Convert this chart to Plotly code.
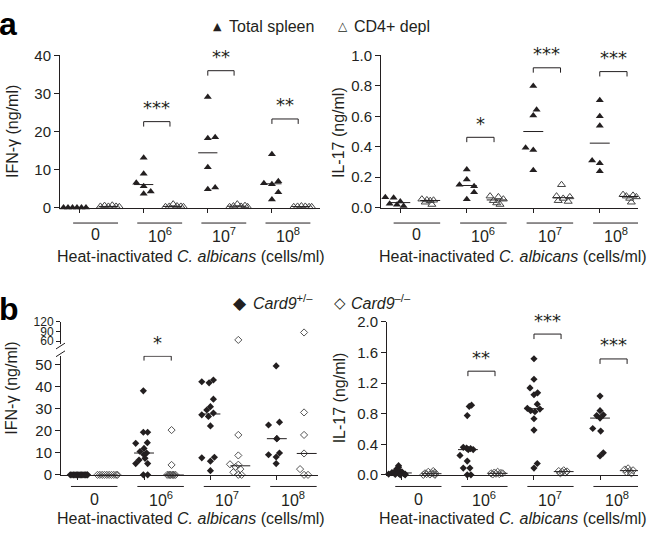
import numpy as np
import plotly.graph_objects as go

W, H = 650, 540
FONT = "Liberation Sans, Arial, Helvetica, sans-serif"
SYM_FONT = "DejaVu Sans, sans-serif"
INK = "#231f20"

group_labels = ["0", "10<sup>6</sup>", "10<sup>7</sup>", "10<sup>8</sup>"]
x_title = "Heat-inactivated <i>C. albicans</i> (cells/ml)"

# ---------------- panel a : Total spleen (filled) vs CD4+ depl (open) ----------------
a_ifn_total = [
    [0, 0, 0, 0, 0, 0],
    [13.1, 8.9, 6.5, 5.6, 4.2, 3.6],
    [29.1, 18.5, 18.2, 10.6, 5.3, 4.8],
    [14.0, 6.9, 6.4, 6.1, 4.0, 2.1],
]
a_ifn_total_dx = [
    [-0.5, -0.36, -0.22, -0.08, 0.06, 0.2],
    [0, 0, -0.23, 0, 0.22, 0],
    [0, 0.23, 0, 0, 0.23, 0],
    [0, 0.2, -0.25, 0, 0.2, 0],
]
a_ifn_cd4 = [
    [0.3, 0.5, 0.3, 0.6, 0.3, 0.2],
    [0.2, 0.3, 0.9, 0.4, 0.3, 0.2],
    [0.2, 0.4, 0.9, 0.3, 0.5, 0.2],
    [0.2, 0.3, 0.4, 0.3, 0.2, 0.2],
]
a_ifn_cd4_dx = [
    [-0.25, -0.12, 0.0, 0.12, 0.24, 0.34],
    [-0.22, -0.1, 0.02, 0.14, 0.26, 0.34],
    [-0.22, -0.1, 0.02, 0.14, 0.26, 0.34],
    [-0.22, -0.1, 0.02, 0.14, 0.26, 0.34],
]
a_il17_total = [
    [0.068, 0.064, 0.04, 0.025, 0.018, 0.01],
    [0.25, 0.185, 0.15, 0.14, 0.10, 0.055],
    [0.80, 0.643, 0.606, 0.394, 0.379, 0.245],
    [0.706, 0.60, 0.538, 0.309, 0.291, 0.238],
]
a_il17_total_dx = [
    [-0.45, -0.2, 0.0, -0.32, -0.1, 0.1],
    [0, 0, -0.22, 0.22, 0.22, 0],
    [0, 0.1, 0, -0.23, 0, 0],
    [0, 0, 0, -0.23, 0, 0],
]
a_il17_cd4 = [
    [0.055, 0.05, 0.048, 0.045, 0.035, 0.02],
    [0.075, 0.07, 0.055, 0.045, 0.03, 0.02],
    [0.15, 0.075, 0.07, 0.06, 0.045, 0.04],
    [0.085, 0.08, 0.075, 0.07, 0.06, 0.035],
]
a_il17_cd4_dx = [
    [-0.25, -0.1, 0.1, 0.0, -0.15, 0.05],
    [-0.2, 0.05, 0.2, -0.1, 0.0, 0.1],
    [-0.05, -0.2, 0.2, 0.0, -0.15, 0.15],
    [-0.2, 0.1, -0.1, 0.2, 0.0, 0.05],
]

# ---------------- panel b : Card9+/- (filled) vs Card9-/- (open) ----------------
b_ifn_het = [
    [0, 0, 0, 0, 0, 0, 0, 0, 0, 0, 0, 0, 0, 0],
    [38.1, 19.3, 19.3, 14.6, 14.3, 12.0, 10.6, 9.9, 9.1, 7.5, 6.7, 5.1, 5.1, 0, 0],
    [43.0, 42.2, 41.7, 34.3, 30.9, 29.4, 28.0, 27.2, 26.5, 22.2, 8.0, 7.7, 6.2, 1.9],
    [49.4, 23.9, 22.6, 16.4, 16.4, 9.9, 9.1, 8.1, 5.1],
]
b_ifn_het_dx = [
    [-0.22, -0.17, -0.12, -0.08, -0.04, 0, 0.04, 0.08, 0.12, 0.16, 0.2, 0.24, 0.28, 0.3],
    [-0.02, -0.02, 0.11, 0.1, -0.25, 0, -0.12, 0.08, 0, 0.03, -0.15, -0.25, 0.11, -0.02, 0.11],
    [0.09, -0.26, -0.04, 0.09, 0, -0.11, 0.09, -0.26, -0.06, 0, 0.12, -0.26, 0, 0],
    [-0.02, 0.08, -0.25, 0, 0, 0.08, -0.25, -0.02, -0.02],
]
b_ifn_ko = [
    [0, 0, 0, 0, 0, 0, 0, 0, 0, 0],
    [20.3, 4.5, 0, 0, 0, 0, 0, 0, 0, 0],
    [64, 18.1, 8.8, 4.8, 4.6, 3.6, 2.6, 1.2, 0, 0],
    [87, 28.3, 18.1, 9.7, 2.6, 0, 0],
]
b_ifn_ko_dx = [
    [-0.3, -0.23, -0.16, -0.09, -0.02, 0.05, 0.12, 0.19, 0.26, 0.3],
    [-0.07, -0.07, -0.2, -0.15, -0.1, -0.05, 0, 0.05, -0.12, -0.02],
    [-0.06, -0.06, -0.06, -0.31, -0.06, -0.14, 0, -0.21, -0.06, 0.04],
    [-0.08, -0.08, -0.08, -0.08, -0.2, -0.08, 0.04],
]
b_il17_het = [
    [0.12, 0.1, 0.08, 0.06, 0.05, 0.04, 0.03, 0.02, 0.015, 0.01, 0.01, 0.005, 0, 0],
    [0.911, 0.894, 0.775, 0.36, 0.35, 0.343, 0.33, 0.33, 0.254, 0.18, 0.089, 0.089, 0, 0],
    [1.517, 1.25, 1.136, 1.072, 1.047, 0.924, 0.869, 0.86, 0.839, 0.826, 0.733, 0.585, 0.148, 0.089],
    [1.03, 0.839, 0.784, 0.775, 0.742, 0.606, 0.572, 0.288, 0.246],
]
b_il17_het_dx = [
    [-0.1, -0.1, -0.15, -0.1, -0.2, 0, -0.3, -0.1, 0.05, -0.4, 0.1, -0.2, -0.05, 0.1],
    [0.11, 0.04, -0.02, -0.14, -0.04, 0.08, 0.16, 0.01, -0.24, -0.02, -0.14, 0.06, -0.02, 0.09],
    [0, 0, -0.12, 0.11, 0, 0.1, -0.2, 0.18, -0.1, 0.03, 0, 0, 0.1, 0],
    [0, 0, 0.1, -0.1, 0, -0.22, 0.02, 0.1, 0],
]
b_il17_ko = [
    [0.05, 0.04, 0.03, 0.02, 0.02, 0.01, 0.01, 0.005, 0, 0],
    [0.04, 0.03, 0.025, 0.02, 0.02, 0.015, 0.01, 0.005],
    [0.06, 0.05, 0.045, 0.04, 0.03, 0.02],
    [0.085, 0.07, 0.06, 0.05, 0.035, 0.02],
]
b_il17_ko_dx = [
    [0.05, -0.1, 0.1, -0.2, 0, -0.15, 0.1, -0.05, -0.25, 0.1],
    [0, -0.1, 0.1, -0.2, 0.15, -0.05, 0.05, -0.15],
    [0, -0.15, 0.1, -0.05, 0.05, -0.1],
    [-0.05, -0.15, 0.1, 0, -0.1, 0.05],
]

# significance brackets: (group index, bracket height, stars)
a_ifn_sig = [(1, 22.6, "***"), (2, 36.0, "**"), (3, 23.3, "**")]
a_il17_sig = [(1, 0.462, "*"), (2, 0.919, "***"), (3, 0.894, "***")]
b_ifn_sig = [(1, 53.8, "*")]
b_il17_sig = [(1, 1.355, "**"), (2, 1.84, "***"), (3, 1.515, "***")]

# ---------------- geometry helpers (pixels -> paper) ----------------
def px(p):
    return p / W


def py(p):
    return 1 - p / H


FILLED_OFF, OPEN_OFF = -0.5, 0.4

fig = go.Figure()


def add_markers(xa, ya, vals, dxs, off, symbol, size, color, lw, upper=None, thr=None):
    xs, ys = [], []
    for g, (vs, ds) in enumerate(zip(vals, dxs)):
        for v, d in zip(vs, ds):
            xs.append(2 * g + off + d)
            ys.append(v)
    xs = np.array(xs, dtype=float)
    ys = np.array(ys, dtype=float)
    if upper is None:
        sets = [(ya, np.ones(len(ys), dtype=bool))]
    else:
        sets = [(ya, ys <= thr), (upper, ys > thr)]
    for yax, m in sets:
        fig.add_trace(go.Scatter(
            x=xs[m], y=ys[m], xaxis=xa, yaxis=yax, mode="markers",
            marker=dict(symbol=symbol, size=size, color=color,
                        line=dict(width=lw, color=color)),
            cliponaxis=False, showlegend=False, hoverinfo="skip"))


def add_medians(xa, ya, vals, off):
    xs, ys = [], []
    for g, vs in enumerate(vals):
        m = float(np.median(vs))
        c = 2 * g + off
        xs += [c - 0.3, c + 0.3, None]
        ys += [m, m, None]
    fig.add_trace(go.Scatter(x=xs, y=ys, xaxis=xa, yaxis=ya, mode="lines",
                             line=dict(color=INK, width=1), showlegend=False,
                             hoverinfo="skip"))


def add_brackets(xa, ya, sig, leg):
    for g, y, txt in sig:
        x0, x1 = 2 * g - 0.5, 2 * g + 0.32
        fig.add_shape(type="path", xref=xa, yref=ya,
                      path=f"M{x0},{y - leg} L{x0},{y} L{x1},{y} L{x1},{y - leg}",
                      line=dict(color=INK, width=1))
        fig.add_annotation(x=(x0 + x1) / 2, y=y, xref=xa, yref=ya, text=txt,
                           showarrow=False, xanchor="center", yanchor="middle",
                           yshift=14,
                           font=dict(family=SYM_FONT, size=18, color=INK))


def note(x, y, text, size, family=FONT, xanchor="center", yanchor="middle",
         angle=0, color=INK):
    fig.add_annotation(x=x, y=y, xref="paper", yref="paper", text=text,
                       showarrow=False, xanchor=xanchor, yanchor=yanchor,
                       textangle=angle,
                       font=dict(family=family, size=size, color=color))


def add_xdecor(xa, underline_py, label_py, title_px, title_py):
    for g, lab in enumerate(group_labels):
        fig.add_shape(type="line", xref=xa, yref="paper",
                      x0=2 * g - 0.7, x1=2 * g + 0.7,
                      y0=py(underline_py), y1=py(underline_py),
                      line=dict(color=INK, width=1))
        fig.add_annotation(x=2 * g, y=py(label_py), xref=xa, yref="paper",
                           text=lab, showarrow=False, xanchor="center",
                           yanchor="middle",
                           font=dict(family=FONT, size=16, color=INK))
    note(px(title_px), py(title_py), x_title, 16)


# ---------------- traces ----------------
# a left
add_markers("x", "y", a_ifn_total, a_ifn_total_dx, FILLED_OFF, "triangle-up", 7, INK, 0)
add_markers("x", "y", a_ifn_cd4, a_ifn_cd4_dx, OPEN_OFF, "triangle-up-open", 7, "#444444", 1)
add_medians("x", "y", a_ifn_total, FILLED_OFF)
add_medians("x", "y", a_ifn_cd4, OPEN_OFF)
add_brackets("x", "y", a_ifn_sig, 1.3)

# a right
add_markers("x2", "y2", a_il17_total, a_il17_total_dx, FILLED_OFF, "triangle-up", 7, INK, 0)
add_markers("x2", "y2", a_il17_cd4, a_il17_cd4_dx, OPEN_OFF, "triangle-up-open", 7, "#444444", 1)
add_medians("x2", "y2", a_il17_total, FILLED_OFF)
add_medians("x2", "y2", a_il17_cd4, OPEN_OFF)
add_brackets("x2", "y2", a_il17_sig, 0.032)

# b left (broken axis: lower y3, upper y5)
add_markers("x3", "y3", b_ifn_het, b_ifn_het_dx, FILLED_OFF, "diamond", 5.5, INK, 0, upper="y5", thr=55)
add_markers("x3", "y3", b_ifn_ko, b_ifn_ko_dx, OPEN_OFF, "diamond-open", 5.5, "#555555", 1, upper="y5", thr=55)
add_medians("x3", "y3", b_ifn_het, FILLED_OFF)
add_medians("x3", "y3", b_ifn_ko, OPEN_OFF)
add_brackets("x3", "y3", b_ifn_sig, 2.0)

# b right
add_markers("x4", "y4", b_il17_het, b_il17_het_dx, FILLED_OFF, "diamond", 5.5, INK, 0)
add_markers("x4", "y4", b_il17_ko, b_il17_ko_dx, OPEN_OFF, "diamond-open", 5.5, "#555555", 1)
add_medians("x4", "y4", b_il17_het, FILLED_OFF)
add_medians("x4", "y4", b_il17_ko, OPEN_OFF)
add_brackets("x4", "y4", b_il17_sig, 0.065)

# ---------------- decorations ----------------
add_xdecor("x", 221, 233, 191, 256)
add_xdecor("x2", 221, 233, 513, 256)
add_xdecor("x3", 493, 506, 191, 526)
add_xdecor("x4", 493, 506, 513, 526)

note(px(12), py(127), "IFN-γ (ng/ml)", 16, angle=-90)
note(px(339), py(128), "IL-17 (ng/ml)", 16, angle=-90)
note(px(12), py(392), "IFN-γ (ng/ml)", 16, angle=-90)
note(px(339), py(402), "IL-17 (ng/ml)", 16, angle=-90)

# axis break marks on b-left
for y0 in (351, 359):
    fig.add_shape(type="line", xref="paper", yref="paper",
                  x0=px(56), y0=py(y0), x1=px(65), y1=py(y0 - 6),
                  line=dict(color=INK, width=1))

# panel letters
note(px(8), py(16), "<b>a</b>", 32, color="#000")
note(px(9), py(310), "<b>b</b>", 32, color="#000")

# legends
note(px(217.5), py(18), "▲", 11, family=SYM_FONT)
note(px(227), py(18), "Total spleen", 16, xanchor="left")
note(px(342.5), py(18), "△", 12, family=SYM_FONT)
note(px(352), py(18), "CD4+ depl", 16, xanchor="left")
note(px(240), py(304), "◆", 17, family=SYM_FONT)
note(px(251), py(303), "<i>Card9</i><sup>+/–</sup>", 16, xanchor="left")
note(px(340), py(304), "◇", 15, family=SYM_FONT)
note(px(349), py(303), "<i>Card9</i><sup>–/–</sup>", 16, xanchor="left")

# ---------------- axes ----------------
ycommon = dict(showline=True, linecolor=INK, linewidth=1, ticks="outside", ticklen=5,
               tickcolor=INK, tickwidth=1, showgrid=False, zeroline=False,
               tickfont=dict(family=FONT, size=15, color=INK), fixedrange=True,
               tickmode="array")
xcommon = dict(showline=True, linecolor=INK, linewidth=1, ticks="outside", ticklen=4,
               tickcolor=INK, tickwidth=1, showgrid=False, zeroline=False,
               showticklabels=False, tickmode="array",
               tickvals=[2 * g + FILLED_OFF for g in range(4)], fixedrange=True)

fig.update_layout(
    width=W, height=H, margin=dict(l=0, r=0, t=0, b=0),
    paper_bgcolor="white", plot_bgcolor="white", showlegend=False,
    font=dict(family=FONT, color=INK),
    xaxis=dict(xcommon, domain=[px(60), px(320)], range=[-1.11, 7.0], anchor="y"),
    yaxis=dict(ycommon, domain=[py(205), py(48)], range=[0, 40], anchor="x",
               tickvals=[0, 10, 20, 30, 40]),
    xaxis2=dict(xcommon, domain=[px(381), px(638)], range=[-1.08, 6.65], anchor="y2"),
    yaxis2=dict(ycommon, domain=[py(205), py(48)], range=[0, 1.0], anchor="x2",
                tickvals=[0, 0.2, 0.4, 0.6, 0.8, 1.0], tickformat=".1f"),
    xaxis3=dict(xcommon, domain=[px(61), px(318)], range=[-1.0, 6.74], anchor="y3"),
    yaxis3=dict(ycommon, domain=[py(481), py(358)], range=[0, 54], anchor="x3",
                tickvals=[0, 10, 20, 30, 40, 50]),
    yaxis5=dict(ycommon, domain=[py(346), py(323)], range=[51, 120], anchor="x3",
                tickvals=[60, 90, 120], ticklen=4,
                tickfont=dict(family=FONT, size=12, color=INK)),
    xaxis4=dict(xcommon, domain=[px(387), px(638)], range=[-0.95, 6.65], anchor="y4"),
    yaxis4=dict(ycommon, domain=[py(481), py(323)], range=[0, 2.0], anchor="x4",
                tickvals=[0, 0.4, 0.8, 1.2, 1.6, 2.0], tickformat=".1f"),
)

fig.write_html("out.html", config={"displayModeBar": False},
               post_script="document.body.style.margin='0';")
